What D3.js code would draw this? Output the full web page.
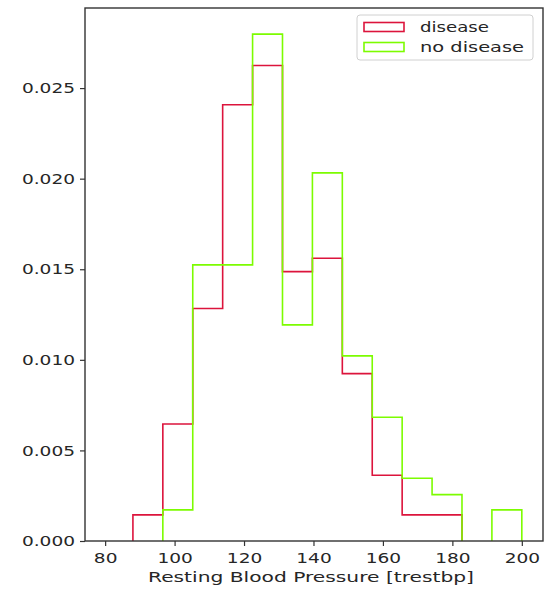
<!DOCTYPE html>
<html>
<head>
<meta charset="utf-8">
<script src="https://cdn.jsdelivr.net/npm/d3@7"></script>
<style>
  html, body { margin: 0; padding: 0; background: #fff; }
  svg { display: block; }
  text { font-family: "DejaVu Sans", sans-serif; fill: #262626; }
</style>
</head>
<body>
<svg id="chart" width="547" height="590"></svg>
<script>
// Bin edges (13 equal bins from 88 to 200)
const binStart = 88;
const binEnd = 200;
const binCount = 13;
// Density values per bin
const diseaseValues = [0.00144, 0.00646, 0.01283, 0.02408, 0.02625, 0.01487, 0.01561, 0.00924, 0.00363, 0.00144, 0.00144, 0, 0];
const noDiseaseValues = [0, 0.00172, 0.01524, 0.01524, 0.02798, 0.01193, 0.02032, 0.01022, 0.00683, 0.00346, 0.00256, 0, 0.00172];
const xTicks = [80, 100, 120, 140, 160, 180, 200];
const yTicks = [0.000, 0.005, 0.010, 0.015, 0.020, 0.025];
const seriesNames = ["disease", "no disease"];
const seriesColors = ["crimson", "lawngreen"];
const xLabel = "Resting Blood Pressure [trestbp]";

const SX = 1.28; // horizontal text stretch as in the reference
const FS = 14.5;

const svg = d3.select("#chart");
const m = { left: 85, right: 4, top: 8, bottom: 49 };
const W = 547, H = 590;

const x = d3.scaleLinear().domain([74.2, 206.1]).range([m.left, W - m.right]);
const y = d3.scaleLinear().domain([0, 0.02942]).range([H - m.bottom, m.top]);

const step = (binEnd - binStart) / binCount;
const edges = d3.range(binCount + 1).map(i => binStart + i * step);

function runs(vals) {
  const out = [];
  let cur = null;
  vals.forEach((v, i) => {
    if (v > 0) { if (!cur) { cur = [i, i]; out.push(cur); } else cur[1] = i; }
    else cur = null;
  });
  return out;
}
function stepPath(vals, a, b) {
  const pts = [[edges[a], 0]];
  for (let i = a; i <= b; i++) {
    pts.push([edges[i], vals[i]]);
    pts.push([edges[i + 1], vals[i]]);
  }
  pts.push([edges[b + 1], 0]);
  return d3.line().x(d => x(d[0])).y(d => y(d[1]))(pts);
}

const plot = svg.append("g");
[diseaseValues, noDiseaseValues].forEach((vals, k) => {
  runs(vals).forEach(([a, b]) => {
    plot.append("path")
      .attr("d", stepPath(vals, a, b))
      .attr("fill", "none")
      .attr("stroke", seriesColors[k])
      .attr("stroke-width", 1.6)
      .attr("stroke-linejoin", "miter");
  });
});

// Spines
svg.append("rect")
  .attr("x", m.left).attr("y", m.top)
  .attr("width", W - m.right - m.left).attr("height", H - m.bottom - m.top)
  .attr("fill", "none").attr("stroke", "#333").attr("stroke-width", 1.4);

// Axes
const xAxis = svg.append("g")
  .attr("transform", `translate(0,${H - m.bottom})`)
  .call(d3.axisBottom(x).tickValues(xTicks).tickFormat(d3.format("d")).tickSize(5).tickPadding(4));
const yAxis = svg.append("g")
  .attr("transform", `translate(${m.left},0)`)
  .call(d3.axisLeft(y).tickValues(yTicks).tickFormat(d3.format(".3f")).tickSize(5).tickPadding(5));

[xAxis, yAxis].forEach(g => {
  g.select(".domain").remove();
  g.selectAll(".tick line").attr("stroke", "#333").attr("stroke-width", 1.2);
  g.selectAll(".tick text")
    .attr("font-family", "DejaVu Sans, sans-serif")
    .attr("font-size", FS)
    .attr("fill", "#262626");
});
xAxis.selectAll(".tick text").attr("transform", `scale(${SX},1)`).attr("dy", "0.9em");
yAxis.selectAll(".tick text").attr("transform", `scale(${SX},1)`)
  .attr("x", -10 / SX);

// X label
svg.append("text")
  .attr("x", 148).attr("y", 582)
  .attr("textLength", 326).attr("lengthAdjust", "spacingAndGlyphs")
  .attr("font-size", FS)
  .text(xLabel);

// Legend
const legendWidths = [69, 104];
const lg = svg.append("g");
lg.append("rect")
  .attr("x", 357).attr("y", 15).attr("width", 176).attr("height", 45)
  .attr("rx", 3).attr("fill", "#fff").attr("fill-opacity", 0.8)
  .attr("stroke", "#d0d0d0").attr("stroke-width", 1);
seriesNames.forEach((name, i) => {
  const yy = 27 + i * 20;
  lg.append("rect")
    .attr("x", 364).attr("y", yy - 4.5).attr("width", 40).attr("height", 9)
    .attr("fill", "none").attr("stroke", seriesColors[i]).attr("stroke-width", 1.6);
  lg.append("text")
    .attr("x", 420).attr("y", yy)
    .attr("dy", "0.35em")
    .attr("textLength", legendWidths[i]).attr("lengthAdjust", "spacingAndGlyphs")
    .attr("font-size", FS)
    .text(name);
});
</script>
</body>
</html>
